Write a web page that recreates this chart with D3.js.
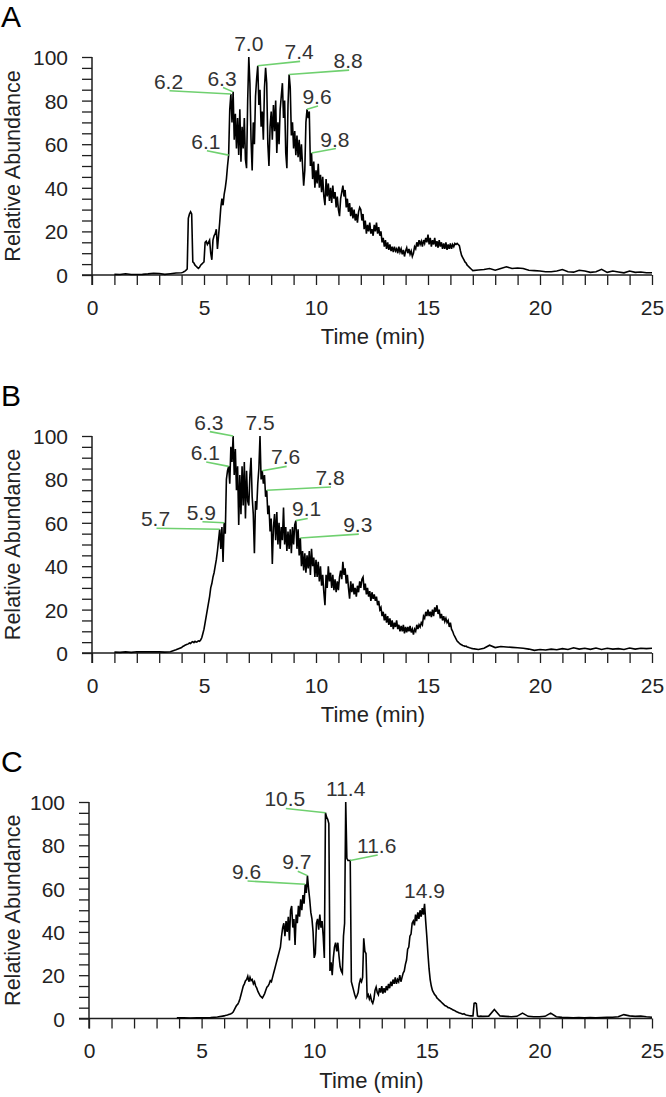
<!DOCTYPE html>
<html><head><meta charset="utf-8">
<script src="https://cdn.jsdelivr.net/npm/d3@7"></script>
<style>html,body{margin:0;padding:0;background:#fff;}svg{display:block;}</style>
</head><body>
<svg id="chart" width="666" height="1097"></svg>
<script>
// ---------------- DATA ----------------
const xTickValues = [0,1,2,3,4,5,6,7,8,9,10,11,12,13,14,15,16,17,18,19,20,21,22,23,24,25];
const xTickLabels = [0,5,10,15,20,25];
const yTickValues = [0,5,10,15,20,25,30,35,40,45,50,55,60,65,70,75,80,85,90,95,100];
const yTickLabels = [0,20,40,60,80,100];

// Panel A trace: head (start 1.0, step 0.25), active (start 4.0, step 0.05), tail (start 17.25, step 0.25)
const headStartA = 1.0, headStepA = 0.25;
const headA = [0.3,0.2,0.6,0.2,0.2,0.3,0.5,0.8,0.7,0.3,0.6,0.9];
const activeStartA = 4.0, activeStepA = 0.05;
const activeA = [
 1.0,1.2,1.5,1.8,2.2,2.8,26,28,29,28,6,5.5,4.5,4,3.5,3,3.5,4.5,5,5.5,
 6,15,15.5,14,15,16,10,7,16,18,19,21,12,18,24,31,35,32,37,40,
 44,50,55,76,83,70,84,62,74,58,72,55,76,52,68,58,72,53,49,80,
 100,88,62,48,70,60,82,90,96,78,85,68,75,62,86,95,88,60,50,68,
 75,62,78,66,80,56,70,60,76,82,88,72,80,56,49,78,92,86,64,70,
 58,66,55,64,54,62,52,60,50,41,48,70,76,72,75,50,56,44,52,40,
 48,42,51,40,46,38,45,36,32,44,36,42,34,40,33,41,35,38,31,36,
 30,27,35,38,41,36,39,31,35,29,33,27,31,26,30,25,28,24,29,31,
 30,25,28,21,25,19,23,20,24,19,21,18,23,20,24,19,22,18,20,15,
 17,13,16,12,15,11.5,14,11,13,10.5,13,11,12,10,13,10.5,12,9.5,11.5,8.5,
 11,12.5,10,12,9.5,11,8.5,10,13,12,15,13,16,14,15.5,13,16,14.5,17,15,
 18.5,14,17,13,16,14,17,13,15.5,12.5,16,13,15,12,14.5,12,15,11.5,14,12,
 14.5,12,14,13,14.5,14,14.5,14,13.5,11,9,8,7,6,5.5,4.5,4,3.5,3,2.5,
 2];
const tailStartA = 17.25, tailStepA = 0.25;
const tailA = [2.3,2.5,3,2.2,3,3.8,3,3.2,3,2.2,2,1.8,1.5,1.5,1.8,2.5,1.5,1.3,2.2,1.8,1.2,1.5,2.6,1.2,1.8,1.4,1,1.8,1.2,1.4,1,1];

// Panel B trace
const headStartB = 1.0, headStepB = 0.25;
const headB = [0.4,0.3,0.5,0.3,0.6,0.5,0.6,0.5,0.5,0.4,0.6,1.5];
const activeStartB = 4.0, activeStepB = 0.05;
const activeB = [
 2.5,3,3.2,3.6,3.8,4,4.2,4.6,4.4,5,5.2,4.8,5.4,5,5.2,5.6,5.4,6,7,9,
 11,14,17,20,23,26,30,32,35,37,40,43,47,52,57,48,58,42,60,55,
 80,84,86,78,95,88,100,82,94,75,86,59,82,64,86,68,88,62,84,70,
 68,82,90,72,64,46,70,66,78,85,100,80,84,78,82,72,75,64,68,56,
 62,41,58,64,52,65,50,60,48,58,52,67,50,58,47,56,48,57,46,58,
 50,59,61,48,57,45,53,40,47,38,46,37,45,39,47,36,48,40,44,35,
 43,35,42,33,40,31,36,28,22,36,30,40,33,37,30,36,29,34,28,33,
 29,35,38,34,42,36,39,32,36,30,25,33,28,32,27,30,26,31,28,33,
 30,34,35,29,32,27,30,26,28.5,24,28,25,27,24,26,22,24,20,21,17,
 19,15,18,14,17,13,16,12,15,11,14,12,15,11,13,10,12.5,10,13,9,
 12,9.5,12,10,12.5,9.5,11,8.5,11,10,13,11,13,12,14,13,17,16,19,17,
 20,17,19,16.5,20,17,21,19,22,18,20,16,18,15,17,14.5,16,14,15,12,
 14,11,10,8.5,7.5,6.5,5.5,5,4.5,4,3.8,3.5,3.3,3,3.2,2.8,2.6,2.4,2.3,2.1,
 2];
const tailStartB = 17.25, tailStepB = 0.25;
const tailB = [1.6,2.2,3.6,2.5,3,2.8,2.6,2.4,2.2,1.8,1.2,1.6,1.4,1.8,1.5,2,1.6,2.4,1.8,2.2,1.7,2.3,1.6,2.2,1.8,2.0,1.6,2.3,1.8,2.2,2.0,2.2];

// Panel C trace
const headStartC = 3.9, headStepC = 0.3;
const headC = [0.3,0.3,0.2,0.3,0.3,0.4,0.7];
const activeStartC = 6.0, activeStepC = 0.05;
const activeC = [
 1.2,1.4,1.5,1.6,1.8,2,2.2,2.5,3,4,5,6,6.5,7.5,9,11,13,15,16,17.5,
 18,19.5,17,19,17.5,18,16,17,15,14,12.5,11.5,10.5,10,9.5,10.5,11.5,13,14.5,15,
 16,17.5,17,19,21,23,25,27,29,31,33,38,42,44,38,45,40,47,36,50,
 52,42,46,34,48,44,52,47,55,50,57,53,62,58,66,60,55,49,46,40,
 28,30,44,46,41,48,42,45,38,28,95,93,92,90,22,26,20,28,33,35,
 31,35,29,24,22,21,38,44,100,74,73,73,73,17,15,13,11,9.5,10.5,12,
 16,18,17,19,37,31,30,10,11,9,10.5,8,7,9,13,14.5,12,11,14,12,
 15,11.5,14,12,15,13,16,14,17,15,18,16,19,16,18,17,20,17,19,21,
 22,25,27,32,33,38,39,44,45,43,48,45,49,46,50,47,51,48,53,45,
 38,30,23,18,15,13,12,11,10.5,9.5,9,8.5,8,7.5,7,6.5,6,5.8,5.5,5,
 5,4.6,4.4,4,3.8,3.6,3.2,3,2.8,2.5,2.4,2.2,2,2.2,1.8,1.6,1.5,1.4,1.3,1.2,
 1.2,1.2,7,7.2,6.8,1.2,1,1,1.1,1,1];
const tailStartC = 17.75, tailStepC = 0.25;
const tailC = [1.1,4.2,1.2,1,0.8,1,2.5,1,0.8,0.8,1,2.5,0.8,0.5,0.4,0.3,0.4,0.3,0.4,0.3,0.4,0.5,0.6,0.8,1.8,1.2,1,1.1,0.8,0.6];

// Peak annotations (text, apex time/abundance, label anchor time/abundance; null anchor = label above apex)
const peakTextA = ["6.2","6.3","7.0","7.4","8.8","9.6","6.1","9.8"];
const peakTimeA = [6.2,6.3,7.0,7.4,8.8,9.6,6.1,9.8];
const peakValA  = [83,84,100,96,92,76,55,56];
const anchorTimeA = [3.46,5.85,null,9.29,11.48,10.09,5.13,10.89];
const anchorValA  = [84.5,86,null,98,94,77.5,57,58];

const peakTextB = ["6.3","7.5","6.1","7.6","7.8","5.7","5.9","9.1","9.3"];
const peakTimeB = [6.3,7.5,6.1,7.6,7.8,5.7,5.9,9.1,9.3];
const peakValB  = [100,100,86,84,75,57,60,61,53];
const anchorTimeB = [5.26,null,5.1,8.69,10.67,2.88,4.93,9.63,11.91];
const anchorValB  = [102,null,88,86,76.5,57.5,60.5,62,54.8];

const peakTextC = ["10.5","11.4","11.6","9.6","9.7","14.9"];
const peakTimeC = [10.5,11.4,11.6,9.6,9.7,14.9];
const peakValC  = [95,100,73,62,66,53];
const anchorTimeC = [8.74,null,12.82,7.04,9.27,null];
const anchorValC  = [97,null,75.5,63.5,68,null];

const panelLetters = ["A","B","C"];
const xTitle = "Time (min)";
const yTitle = "Relative Abundance";

// ---------------- LAYOUT ----------------
const FONT = "'Liberation Sans', Arial, Helvetica, sans-serif";
const layouts = [
  {left:92, right:652, top:57,  bottom:275},
  {left:92, right:652, top:436, bottom:653},
  {left:89, right:652, top:802, bottom:1018.5}
];
function seg(start, step, vals){ return vals.map((v,i)=>({t:+(start+i*step).toFixed(4), v:v})); }
const series = [
  [...seg(headStartA,headStepA,headA), ...seg(activeStartA,activeStepA,activeA), ...seg(tailStartA,tailStepA,tailA)],
  [...seg(headStartB,headStepB,headB), ...seg(activeStartB,activeStepB,activeB), ...seg(tailStartB,tailStepB,tailB)],
  [...seg(headStartC,headStepC,headC), ...seg(activeStartC,activeStepC,activeC), ...seg(tailStartC,tailStepC,tailC)]
];
const peaks = [
  {text:peakTextA, t:peakTimeA, v:peakValA, at:anchorTimeA, av:anchorValA},
  {text:peakTextB, t:peakTimeB, v:peakValB, at:anchorTimeB, av:anchorValB},
  {text:peakTextC, t:peakTimeC, v:peakValC, at:anchorTimeC, av:anchorValC}
];

const svg = d3.select("#chart");
const AX = "#1e1e1e";

layouts.forEach((L, k) => {
  const x = d3.scaleLinear().domain([0,25]).range([L.left, L.right]);
  const y = d3.scaleLinear().domain([0,100]).range([L.bottom, L.top]);
  const g = svg.append("g");

  // panel letter
  g.append("text").attr("x", 1).attr("y", L.top - 30)
    .attr("font-family", FONT).attr("font-size", 30).attr("fill", "#000")
    .text(panelLetters[k]);

  // x axis
  const xAxis = d3.axisBottom(x).tickValues(xTickValues).tickSize(10).tickSizeOuter(0)
    .tickFormat(d => xTickLabels.includes(d) ? String(d) : "");
  const gx = g.append("g").attr("transform", `translate(0,${L.bottom})`).call(xAxis);
  gx.attr("color", AX).attr("font-family", FONT).attr("font-size", 21);
  gx.select(".domain").remove();
  gx.selectAll(".tick line").attr("stroke-width", 1.3);
  gx.selectAll(".tick text").attr("y", 39.5).attr("dy", null).attr("fill", "#222");
  g.append("line").attr("x1", L.left - 10).attr("x2", L.right)
    .attr("y1", L.bottom).attr("y2", L.bottom).attr("stroke", AX).attr("stroke-width", 1.5);

  // y axis
  const yAxis = d3.axisLeft(y).tickValues(yTickValues).tickSize(10).tickSizeOuter(0)
    .tickFormat(d => yTickLabels.includes(d) ? String(d) : "");
  const gy = g.append("g").attr("transform", `translate(${L.left},0)`).call(yAxis);
  gy.attr("color", AX).attr("font-family", FONT).attr("font-size", 21);
  gy.select(".domain").remove();
  gy.selectAll(".tick line").attr("stroke-width", 1.3);
  gy.selectAll(".tick text").attr("x", -24).attr("dy", "0.36em").attr("fill", "#222");
  g.append("line").attr("x1", L.left).attr("x2", L.left)
    .attr("y1", L.top).attr("y2", L.bottom + 10).attr("stroke", AX).attr("stroke-width", 1.5);

  // titles
  g.append("text").attr("x", (L.left + L.right)/2 + 1).attr("y", L.bottom + 69)
    .attr("text-anchor", "middle").attr("font-family", FONT).attr("font-size", 22).attr("fill", "#222")
    .text(xTitle);
  g.append("text").attr("transform", `translate(19.5,${(L.top + L.bottom)/2}) rotate(-90)`)
    .attr("text-anchor", "middle").attr("font-family", FONT).attr("font-size", 21.5).attr("fill", "#222")
    .text(yTitle);

  // trace
  const line = d3.line().x(d => x(d.t)).y(d => y(d.v));
  g.append("path").datum(series[k]).attr("d", line)
    .attr("fill", "none").attr("stroke", "#000").attr("stroke-width", 1.6).attr("stroke-linejoin", "miter");

  // peak labels
  const P = peaks[k];
  P.text.forEach((txt, i) => {
    const px = x(P.t[i]), py = y(P.v[i]);
    if (P.at[i] === null) {
      g.append("text").attr("x", px).attr("y", py - 6).attr("text-anchor", "middle")
        .attr("font-family", FONT).attr("font-size", 21).attr("fill", "#333").text(txt);
    } else {
      const ax = x(P.at[i]), ay = y(P.av[i]);
      g.append("line").attr("x1", px).attr("y1", py).attr("x2", ax).attr("y2", ay)
        .attr("stroke", "#6fd06f").attr("stroke-width", 1.6);
      g.append("text").attr("x", ax - 1).attr("y", ay - 2).attr("text-anchor", "middle")
        .attr("font-family", FONT).attr("font-size", 21).attr("fill", "#333").text(txt);
    }
  });
});
</script>
</body></html>
